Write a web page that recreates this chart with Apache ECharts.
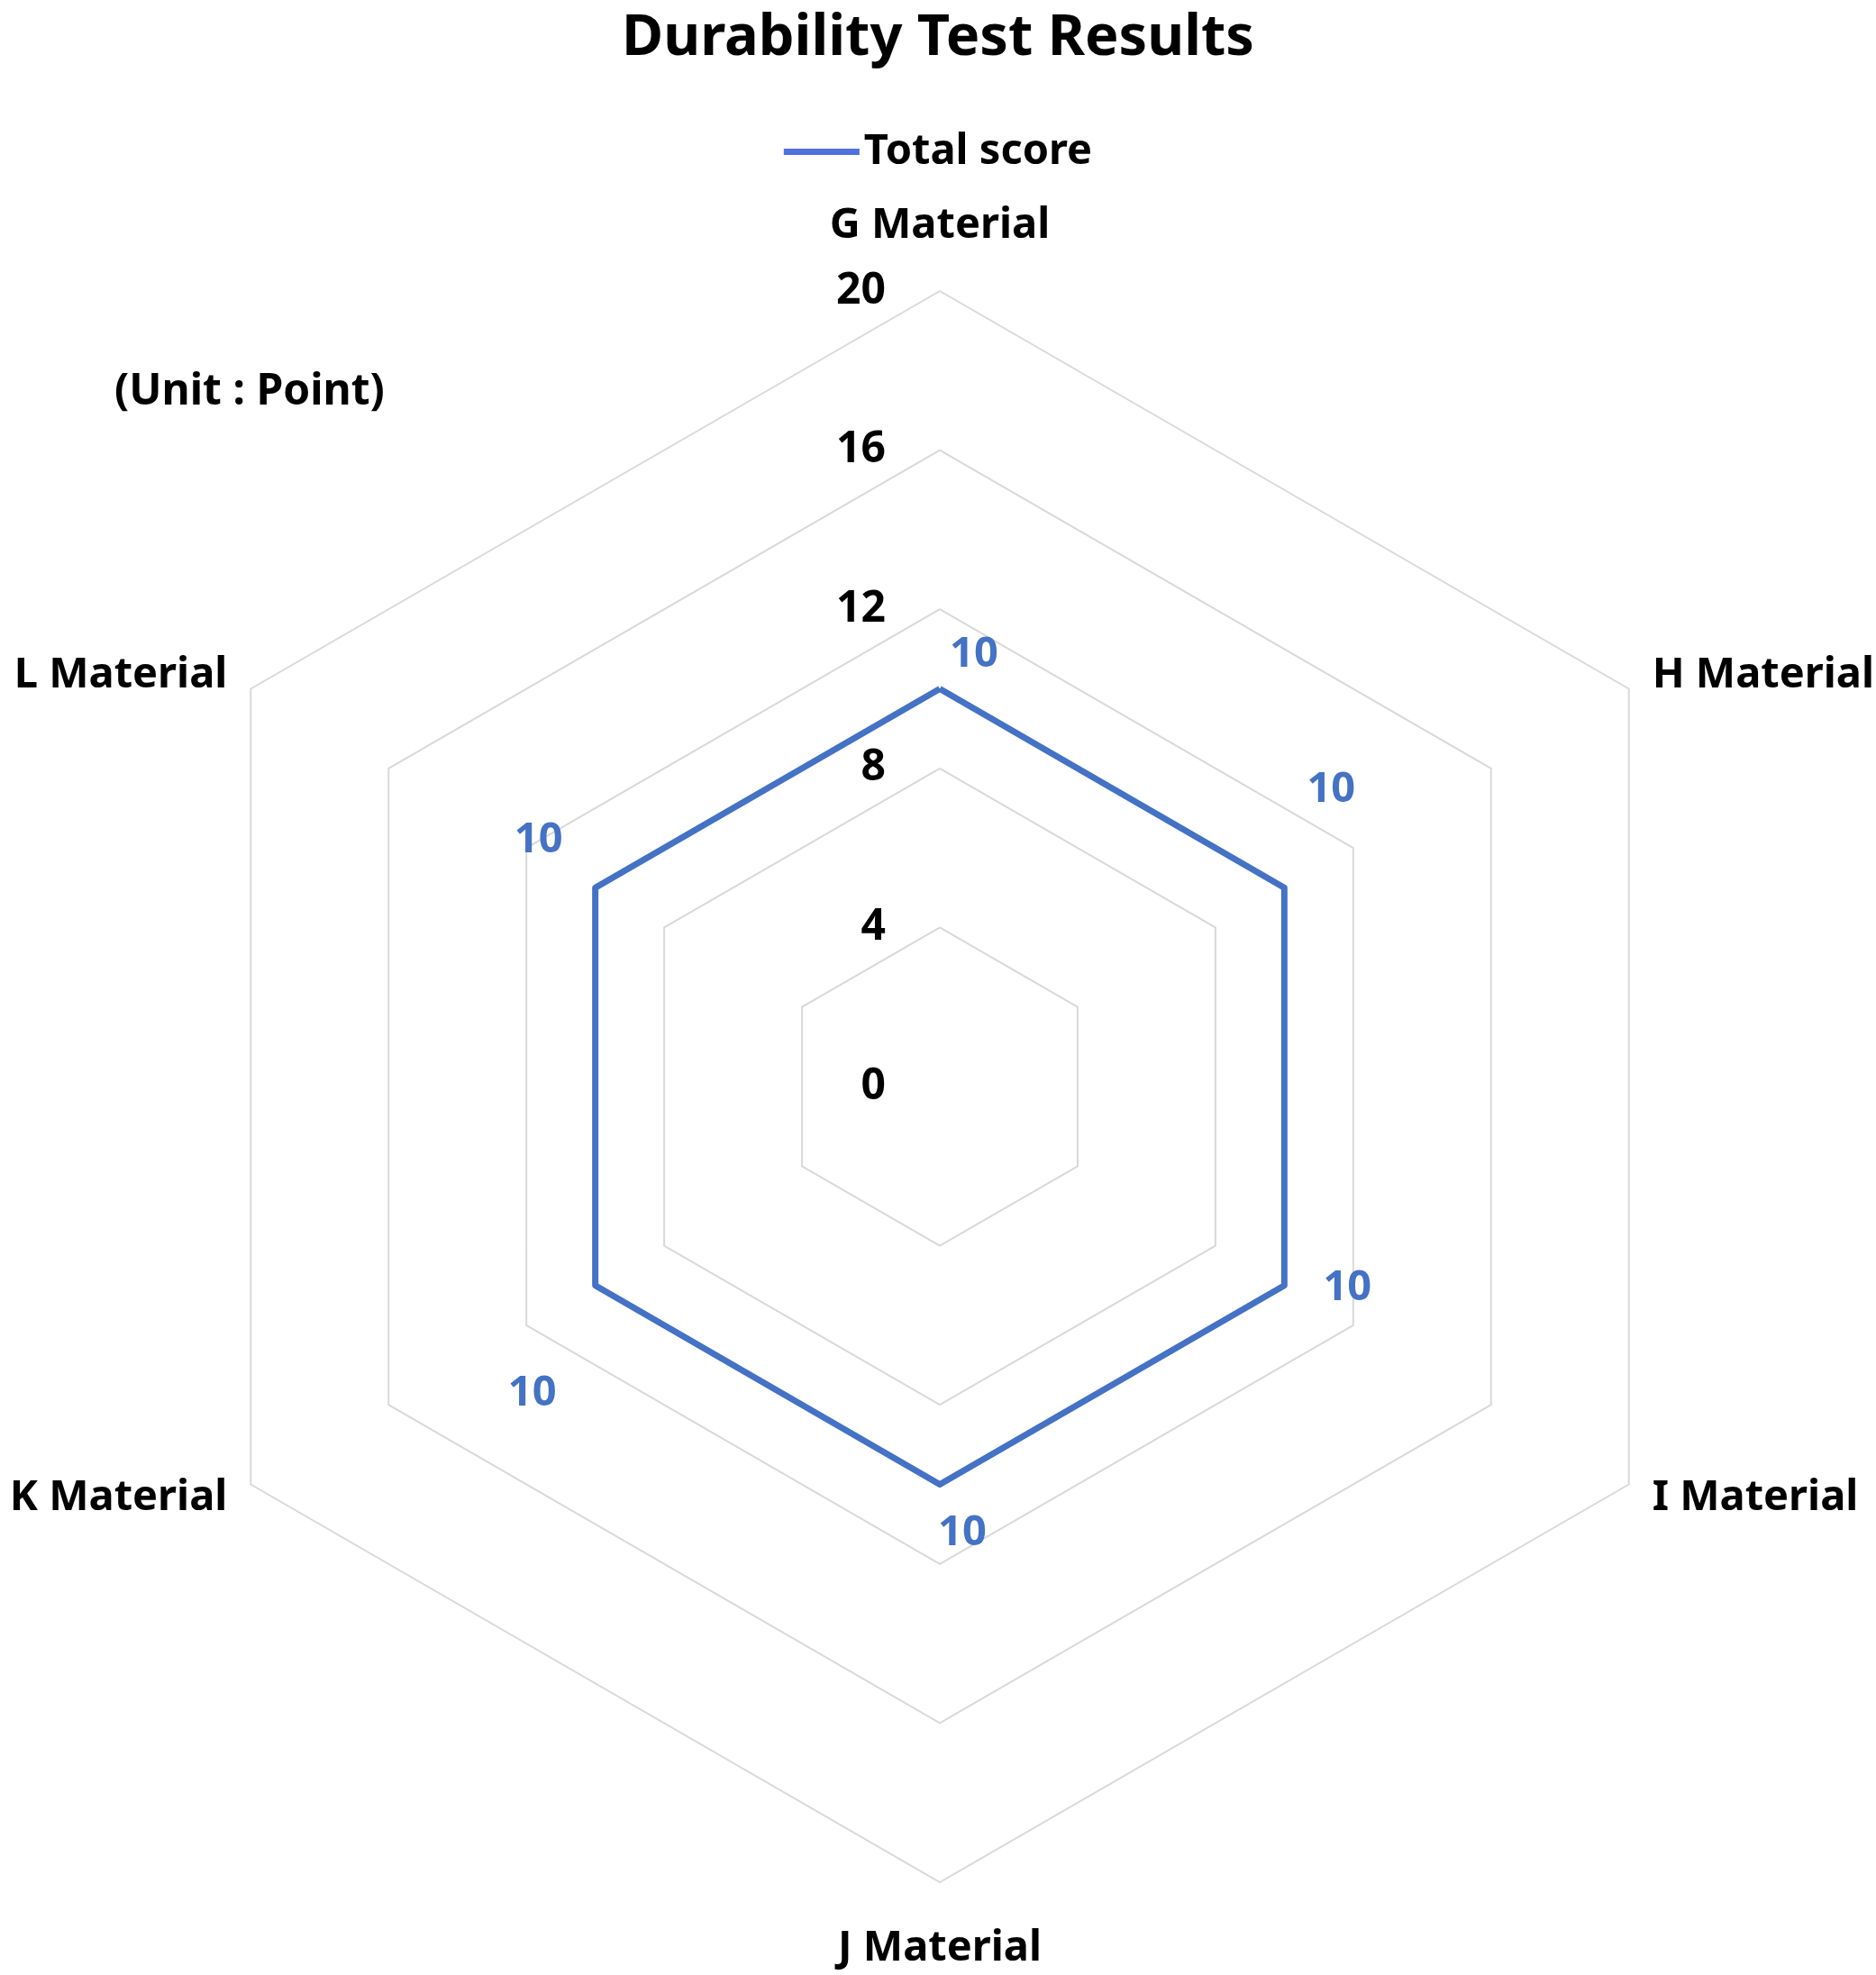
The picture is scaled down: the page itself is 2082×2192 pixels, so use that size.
<!DOCTYPE html>
<html><head><meta charset="utf-8">
<script src="https://cdn.jsdelivr.net/npm/echarts@6/dist/echarts.min.js"></script>
<style>html,body{margin:0;padding:0;background:#fff}#c{width:2082px;height:2192px}</style>
</head><body><div id="c"></div>
<script>
const categories = ['G Material','H Material','I Material','J Material','K Material','L Material'];
const seriesName = 'Total score';
const totalScore = [10, 10, 10, 10, 10, 10];
const axisMin = 0;
const axisMax = 20;
const axisSplits = 5;

const FONT = '"Noto Sans", sans-serif';
const BLUE = '#4472C4';
// label placement per category (style only), in category order
const labelOffsets = [[38,-38],[52,-109],[70,3],[25,54],[-70,120],[-63,-53]];
// name gap per category (style only)
const nameGaps = [49, 30, 30, 50, 30, 30];

// ECharts places indicators counter-clockwise; reorder so categories run clockwise
const order = categories.map((_, i) => (categories.length - i) % categories.length);
const ordVals = order.map(i => totalScore[i]);

const labelItems = order.map((ci) => ({
  name: 'lbl' + ci,
  value: order.map(cj => (cj === ci ? totalScore[cj] : '-')),
  symbol: 'circle', symbolSize: 2,
  itemStyle: { color: 'rgba(0,0,0,0)', borderWidth: 0 },
  lineStyle: { width: 0, opacity: 0 },
  label: { show: true, position: 'inside', offset: labelOffsets[ci], color: BLUE,
           fontSize: 47, fontFamily: FONT, fontWeight: 'bold' }
}));

const chart = echarts.init(document.getElementById('c'), null, { renderer: 'canvas' });
chart.setOption({
  backgroundColor: '#fff',
  animation: false,
  title: [
    { text: 'Durability Test Results', left: 'center', top: 7,
      textStyle: { fontSize: 63, fontWeight: 'bold', color: '#000', fontFamily: FONT } },
    { text: '(Unit : Point)', left: 122, top: 406,
      textStyle: { fontSize: 48, fontWeight: 'bold', color: '#000', fontFamily: FONT } }
  ],
  legend: {
    data: [seriesName], top: 140, left: 'center',
    icon: 'rect', itemWidth: 84, itemHeight: 7, itemGap: 10,
    textStyle: { fontSize: 47, fontWeight: 'bold', color: '#000', fontFamily: FONT }
  },
  radar: {
    center: [1043, 1206], radius: 883, startAngle: 90, shape: 'polygon',
    splitNumber: axisSplits,
    indicator: order.map((ci, i) => {
      const o = { name: categories[ci], min: axisMin, max: axisMax, nameGap: nameGaps[ci] };
      if (i === 0) o.axisLabel = { show: true, color: '#000', fontSize: 48, fontWeight: 'bold',
                                   fontFamily: FONT, margin: 60, padding: [14, 0, 0, 0] };
      return o;
    }),
    axisName: { color: '#000', fontSize: 47, fontWeight: 'bold', fontFamily: FONT },
    nameGap: 30,
    splitLine: { lineStyle: { color: '#d9d9d9', width: 2 } },
    splitArea: { show: false },
    axisLine: { show: false },
    axisTick: { show: false },
    axisLabel: { show: false }
  },
  series: [{
    type: 'radar', name: seriesName,
    data: [
      { name: seriesName, value: ordVals, symbol: 'none',
        itemStyle: { color: BLUE }, lineStyle: { color: BLUE, width: 7 }, label: { show: false } }
    ].concat(labelItems)
  }]
});
</script></body></html>
